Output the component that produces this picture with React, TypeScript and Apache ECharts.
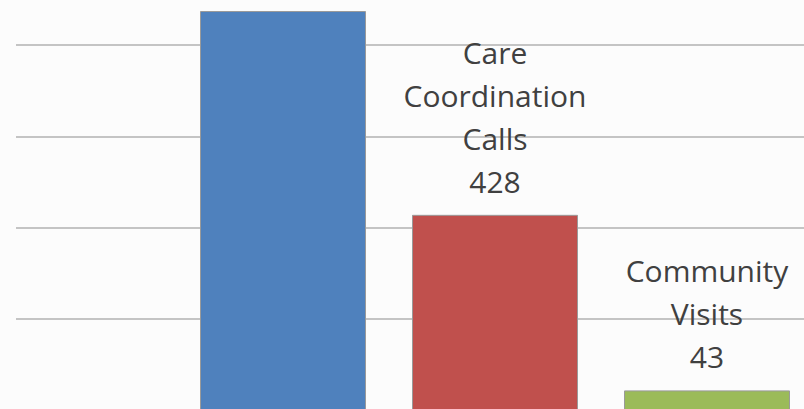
import React, { useEffect, useRef } from "react";
import * as echarts from "echarts";

const categories = ["Phone Calls", "Care Coordination Calls", "Community Visits"];
const values = [875, 428, 43];
const barColors = ["#4F81BD", "#C0504D", "#9BBB59"];
const showLabel = [false, true, true];

export default function App() {
  const ref = useRef<HTMLDivElement>(null);
  useEffect(() => {
    if (!ref.current) return;
    const chart = echarts.init(ref.current, null, { renderer: "svg" });
    const yBase = { type: "value", min: 0, max: 1000, interval: 200, axisLabel: { show: false }, axisLine: { show: false }, axisTick: { show: false } };
    chart.setOption({
      animation: false,
      backgroundColor: "#fcfcfc",
      grid: [
        { left: 16, right: 0, top: 0, bottom: 0 },
        { left: 177, right: 0, top: 0, bottom: 0 },
      ],
      xAxis: [
        { type: "category", gridIndex: 0, data: [""], show: false },
        { type: "category", gridIndex: 1, data: categories, axisLabel: { show: false }, axisLine: { show: false }, axisTick: { show: false } },
      ],
      yAxis: [
        { ...yBase, gridIndex: 0, splitLine: { show: true, lineStyle: { color: "#c4c4c4", width: 2 } } },
        { ...yBase, gridIndex: 1, splitLine: { show: false } },
      ],
      series: [
        {
          type: "bar",
          xAxisIndex: 1,
          yAxisIndex: 1,
          barWidth: 166,
          data: values.map((v, i) => ({
            value: v,
            itemStyle: { color: barColors[i], borderColor: "#9a9a9a", borderWidth: 1 },
            label: { show: showLabel[i] },
          })),
          label: {
            position: "top",
            distance: 12,
            color: "#404040",
            fontFamily: "Open Sans",
            fontSize: 30,
            lineHeight: 43,
            formatter: (p: any) => p.name.split(" ").join("\n") + "\n" + p.value,
          },
        },
      ],
    });
    return () => chart.dispose();
  }, []);
  return (
    <div style={{ position: "absolute", left: 0, top: 0, width: 804, height: 409, overflow: "hidden" }}>
      <div ref={ref} style={{ position: "absolute", left: 0, top: -46, width: 813, height: 456 }} />
    </div>
  );
}
